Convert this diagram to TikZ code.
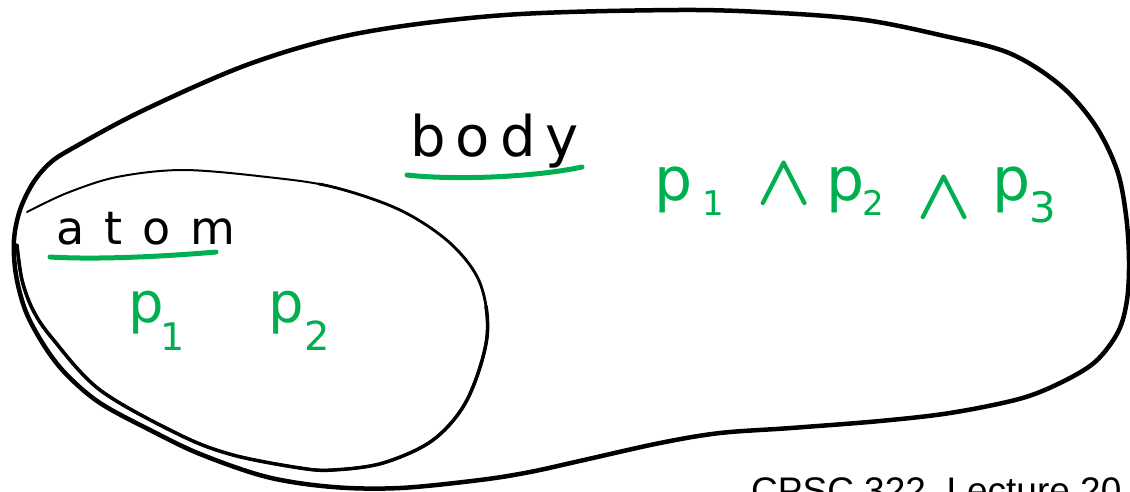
\documentclass[tikz,border=0pt]{standalone}
\usepackage{fontspec}
\setmainfont{DejaVu Sans}
\newfontfamily\slidefont{Liberation Sans}
\definecolor{inkgreen}{RGB}{0,176,80}
% lowered index: #1 drop, #2 size, #3 text
\newcommand\handidx[3]{\raisebox{-#1pt}{\fontsize{#2}{#2}\selectfont #3}}
% tall conjunction sign, lowered by #1
\newcommand\handand[1]{\raisebox{-#1pt}{\fontsize{10}{12}\selectfont
  \scalebox{7.2}{\boldmath$\wedge$}}}
\begin{document}
\begin{tikzpicture}[x=1pt,y=-1pt,
  blob/.style={line width=4.5pt, line join=round, line cap=round},
  ring/.style={line width=2pt, line cap=round},
  ringmid/.style={line width=2.8pt, line cap=round,
    dash pattern=on 3000pt off 300pt, dash phase=3000pt},
  ringheavy/.style={line width=3.5pt, line cap=round,
    dash pattern=on 3000pt off 520pt, dash phase=3000pt},
  underline/.style={inkgreen, line width=5pt, line cap=round},
  hand/.style={inner sep=0pt, anchor=base west},
  greenhand/.style={hand, text=inkgreen}]
\useasboundingbox (0,0) rectangle (1130,491);
\clip (0,0) rectangle (1130,491);

% outer region: body
\draw[blob] plot[smooth cycle, tension=0.55] coordinates {
  (678,10) (780,13) (865,20) (940,35) (1009,53) (1060,85) (1095,125)
  (1117,170) (1126,215) (1129,260) (1127,300) (1118,332) (1095,362)
  (1060,383) (1019,399) (950,413) (880,421) (791,428) (720,433) (660,443)
  (584,460) (530,472) (480,480) (400,488) (333,487) (267,477) (200,454)
  (150,430) (100,403) (67,375) (45,347) (26,312) (16,275) (14,240)
  (20,210) (33,183) (50,163) (73,148) (144,110) (252,63) (360,33) (505,15)};

% inner region: atom (pen pressure grows along the stroke)
\def\atomring{(27,212) (67,193) (117,177) (183,170) (267,177) (333,187)
  (400,210) (450,243) (480,283) (487,337) (467,400) (433,440) (383,463)
  (333,470) (300,468) (233,455) (180,435) (100,390) (52,338) (33,310)
  (22,280) (17,245)}
\draw[ring] plot[smooth, tension=0.55] coordinates {\atomring};
\draw[ringmid] plot[smooth, tension=0.55] coordinates {\atomring};
\draw[ringheavy] plot[smooth, tension=0.55] coordinates {\atomring};

% labels
\node[hand, font=\fontsize{56}{56}\selectfont] (body) at (410,156)
  {b\kern10pt o\kern10pt d\kern10pt y};
\draw[underline] (407,175) .. controls (450,180) and (530,178) .. (582,167);

\node[hand, font=\fontsize{46}{46}\selectfont] (atom) at (56,244)
  {a\kern20pt t\kern20pt o\kern20pt m};
\draw[underline] (50,257) .. controls (100,260) and (170,256) .. (216,252);

% literals
\node[greenhand, font=\fontsize{56}{56}\selectfont] (atomlits) at (128,322)
  {\rlap{p}\kern32pt\rlap{\handidx{28}{38}{1}}\kern108pt
   \rlap{p}\kern36pt\handidx{28}{40}{2}};

\node[greenhand, font=\fontsize{60}{60}\selectfont] (bodylits) at (654,200)
  {\rlap{p}\kern48pt\rlap{\handidx{15}{34}{1}}\kern54pt\rlap{\handand{4}}\kern70pt
   \rlap{p}\kern36pt\rlap{\handidx{15}{34}{2}}\kern54pt\rlap{\handand{18}}\kern76pt
   \rlap{p}\kern37pt\handidx{22}{42}{3}};

% footer
\node[hand, font=\slidefont\fontsize{37}{37}\selectfont] (footer) at (751,503)
  {CPSC 322, Lecture 20};
\end{tikzpicture}
\end{document}
